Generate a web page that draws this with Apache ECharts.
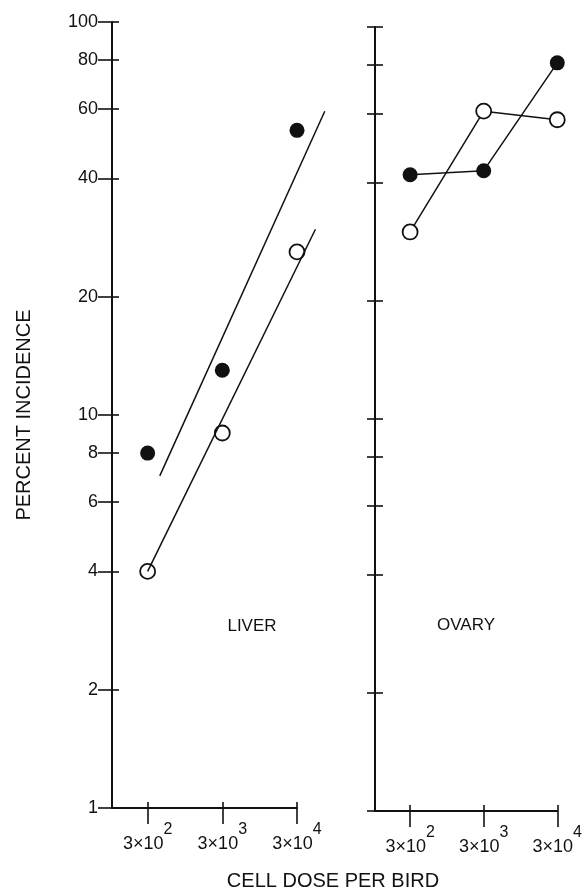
<!DOCTYPE html>
<html>
<head>
<meta charset="utf-8">
<script src="https://cdn.jsdelivr.net/npm/echarts@6/dist/echarts.min.js"></script>
<style>
  html, body { margin: 0; padding: 0; background: #fff; }
  #chart { width: 585px; height: 892px; }
</style>
</head>
<body>
<div id="chart"></div>
<script>
// Cell dose per bird (log scale) and percent incidence (log scale)
const doses = [300, 3000, 30000];
const liverFilled = [8, 13, 53];
const liverOpen = [4, 9, 26];
const ovaryFilled = [42, 43, 81];
const ovaryOpen = [30, 61, 58];

// Fitted dose-response lines for the liver panel (end points)
const liverFilledFitDose = [436, 70600];
const liverFilledFitPct = [7.0, 59.3];
const liverOpenFitDose = [300, 53000];
const liverOpenFitPct = [4.0, 29.7];

const yTicks = [1, 2, 4, 6, 8, 10, 20, 40, 60, 80, 100];
const xTicks = [300, 3000, 30000];

const INK = '#111';
const FONT = 'Liberation Sans';

const pairs = (xs, ys) => xs.map((x, i) => [x, ys[i]]);

function xLabel(v) {
  const e = Math.round(Math.log10(v / 3));
  return '{b|3×10}{s|' + e + '}';
}

function xAxisMain(grid) {
  return {
    type: 'log', logBase: 10, gridIndex: grid, position: 'bottom',
    min: 100, max: 30000,
    axisLine: { show: true, lineStyle: { color: INK, width: 2 } },
    axisTick: { show: true, inside: false, length: 16, customValues: xTicks,
                lineStyle: { color: INK, width: 1.6 } },
    axisLabel: {
      show: true, customValues: xTicks, margin: 14, formatter: xLabel,
      rich: {
        b: { fontFamily: FONT, fontSize: 18, color: INK, verticalAlign: 'bottom' },
        s: { fontFamily: FONT, fontSize: 16, color: INK, verticalAlign: 'bottom',
             padding: [0, 0, 15, 0] }
      }
    },
    splitLine: { show: false }, minorTick: { show: false }
  };
}
function xAxisInner(grid) {
  return {
    type: 'log', logBase: 10, gridIndex: grid, position: 'bottom',
    min: 100, max: 30000,
    axisLine: { show: false },
    axisTick: { show: true, inside: true, length: 6, customValues: xTicks,
                lineStyle: { color: INK, width: 1.6 } },
    axisLabel: { show: false },
    splitLine: { show: false }
  };
}
function yAxisMain(grid, outLen, withLabels) {
  const ax = {
    type: 'log', logBase: 10, gridIndex: grid, position: 'left',
    min: 1, max: 100,
    axisLine: { show: true, lineStyle: { color: INK, width: 2 } },
    axisTick: { show: true, inside: false, length: outLen, customValues: yTicks,
                lineStyle: { color: INK, width: 1.6 } },
    axisLabel: { show: withLabels, customValues: yTicks, margin: 14,
                 fontFamily: FONT, fontSize: 18, color: INK },
    splitLine: { show: false }, minorTick: { show: false }
  };
  if (withLabels) {
    ax.name = 'PERCENT INCIDENCE';
    ax.nameLocation = 'middle';
    ax.nameGap = 78;
    ax.nameTextStyle = { fontFamily: FONT, fontSize: 20, color: INK };
  }
  return ax;
}
function yAxisInner(grid, len) {
  return {
    type: 'log', logBase: 10, gridIndex: grid, position: 'left',
    min: 1, max: 100,
    axisLine: { show: false },
    axisTick: { show: true, inside: true, length: len, customValues: yTicks,
                lineStyle: { color: INK, width: 1.6 } },
    axisLabel: { show: false },
    splitLine: { show: false }
  };
}
// Unlabelled axes on a wider grid with the same scale as the liver panel,
// so the fitted lines can run past the last dose tick.
function hiddenAxis(grid, min, max, pos) {
  return {
    type: 'log', logBase: 10, gridIndex: grid, position: pos, min: min, max: max,
    axisLine: { show: false }, axisTick: { show: false },
    axisLabel: { show: false }, splitLine: { show: false }
  };
}

const LIVER_LEFT = 112, LIVER_WIDTH = 185;
const FIT_MAX = 100000;
const fitWidth = LIVER_WIDTH * (Math.log10(FIT_MAX) - 2) / (Math.log10(30000) - 2);

const lineStyle = { color: INK, width: 1.5 };
const filledItem = { color: INK, opacity: 1 };
const openItem = { color: '#fff', borderColor: INK, borderWidth: 1.8, opacity: 1 };

const option = {
  backgroundColor: '#fff',
  animation: false,
  grid: [
    { left: LIVER_LEFT, top: 22, width: LIVER_WIDTH, height: 786 },
    { left: 375, top: 27, width: 183, height: 784 },
    { left: LIVER_LEFT, top: 22, width: fitWidth, height: 786 }
  ],
  xAxis: [xAxisMain(0), xAxisInner(0), xAxisMain(1), xAxisInner(1),
          hiddenAxis(2, 100, FIT_MAX, 'bottom')],
  yAxis: [yAxisMain(0, 14, true), yAxisInner(0, 7), yAxisMain(1, 8, false), yAxisInner(1, 8),
          hiddenAxis(2, 1, 100, 'left')],
  series: [
    { type: 'line', xAxisIndex: 4, yAxisIndex: 4, showSymbol: false,
      symbol: 'none', lineStyle: lineStyle, data: pairs(liverFilledFitDose, liverFilledFitPct) },
    { type: 'line', xAxisIndex: 4, yAxisIndex: 4, showSymbol: false,
      symbol: 'none', lineStyle: lineStyle, data: pairs(liverOpenFitDose, liverOpenFitPct) },
    { type: 'scatter', xAxisIndex: 0, yAxisIndex: 0, symbol: 'circle', symbolSize: 15,
      itemStyle: filledItem, data: pairs(doses, liverFilled) },
    { type: 'scatter', xAxisIndex: 0, yAxisIndex: 0, symbol: 'circle', symbolSize: 15,
      itemStyle: openItem, data: pairs(doses, liverOpen) },
    { type: 'line', xAxisIndex: 2, yAxisIndex: 2, clip: false, symbol: 'circle', symbolSize: 15,
      lineStyle: lineStyle, itemStyle: openItem, data: pairs(doses, ovaryOpen) },
    { type: 'line', xAxisIndex: 2, yAxisIndex: 2, clip: false, symbol: 'circle', symbolSize: 15,
      lineStyle: lineStyle, itemStyle: filledItem, data: pairs(doses, ovaryFilled) }
  ],
  graphic: [
    { type: 'text', x: 252, y: 626,
      style: { text: 'LIVER', font: '17px "Liberation Sans"', fill: INK, align: 'center', verticalAlign: 'middle' } },
    { type: 'text', x: 466, y: 625,
      style: { text: 'OVARY', font: '17px "Liberation Sans"', fill: INK, align: 'center', verticalAlign: 'middle' } },
    { type: 'text', x: 333, y: 881,
      style: { text: 'CELL DOSE PER BIRD', font: '20px "Liberation Sans"', fill: INK, align: 'center', verticalAlign: 'middle' } }
  ]
};

const chart = echarts.init(document.getElementById('chart'), null, { renderer: 'canvas' });
chart.setOption(option);
</script>
</body>
</html>
